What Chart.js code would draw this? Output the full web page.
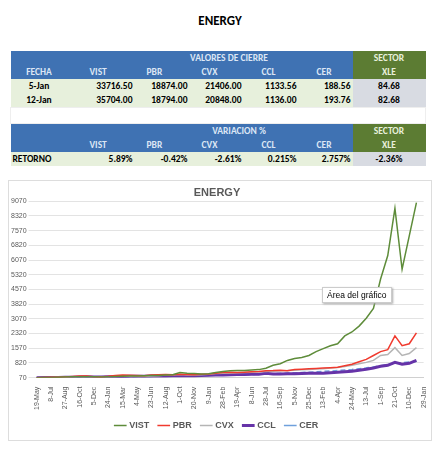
<!DOCTYPE html>
<html><head><meta charset="utf-8">
<script src="https://cdn.jsdelivr.net/npm/chart.js@4"></script>
<style>
body{margin:0;width:440px;height:452px;background:#fff;font-family:Calibri,"Liberation Sans",Arial,sans-serif;position:relative}
h1{margin:0;position:absolute;top:13px;width:440px;text-align:center;font-size:13px;font-weight:bold}
table{position:absolute;left:10px;top:51px;border-collapse:collapse;font-size:9.5px;font-weight:bold}
td{height:14px;padding:0 2px;text-align:right}
.b td.b,.b td{background:#3F72B3;color:#dce6f5}
.b td.g{background:#5C7C33;color:#e8f0dc}
.d td{background:#E7F0DC}
.d td.x{background:#D8DBE2;text-align:center}
.c{text-align:center}
#box{position:absolute;left:8px;top:180px;width:424px;height:261px;border:1px solid #ddd;box-sizing:border-box}
#tip{position:absolute;left:322px;top:287px;font-size:8.5px;font-family:"Liberation Sans",Arial;background:#fff;border:1px solid #ccc;padding:2px 4px;box-shadow:1px 1px 2px #aaa}
</style></head><body>
<h1>ENERGY</h1>
<table>
<colgroup><col style="width:57px"><col style="width:67px"><col style="width:55px"><col style="width:54px"><col style="width:55px"><col style="width:54px"><col style="width:73px"></colgroup>
<tr class="b"><td></td><td colspan="5" class="c" style="padding-left:40px">VALORES DE CIERRE</td><td class="g c">SECTOR</td></tr>
<tr class="b"><td class="c">FECHA</td><td style="text-align:left;padding-left:22px">VIST</td><td style="text-align:left;padding-left:12px">PBR</td><td style="text-align:left;padding-left:12px">CVX</td><td style="text-align:left;padding-left:18px">CCL</td><td style="text-align:left;padding-left:18px">CER</td><td class="g c">XLE</td></tr>
<tr class="d"><td class="c">5-Jan</td><td>33716.50</td><td>18874.00</td><td>21406.00</td><td>1133.56</td><td>188.56</td><td class="x">84.68</td></tr>
<tr class="d"><td class="c">12-Jan</td><td>35704.00</td><td>18794.00</td><td>20848.00</td><td>1136.00</td><td>193.76</td><td class="x">82.68</td></tr>
<tr><td colspan="7" style="height:15px;border:1px solid #eee"></td></tr>
<tr class="b"><td></td><td colspan="5" class="c" style="padding-left:60px">VARIACION %</td><td class="g c">SECTOR</td></tr>
<tr class="b"><td></td><td style="text-align:left;padding-left:22px">VIST</td><td style="text-align:left;padding-left:12px">PBR</td><td style="text-align:left;padding-left:12px">CVX</td><td style="text-align:left;padding-left:18px">CCL</td><td style="text-align:left;padding-left:18px">CER</td><td class="g c">XLE</td></tr>
<tr class="d"><td style="text-align:left">RETORNO</td><td>5.89%</td><td>-0.42%</td><td>-2.61%</td><td>0.215%</td><td>2.757%</td><td class="x">-2.36%</td></tr>
</table>
<div id="box"><canvas id="chart" width="424" height="261"></canvas></div>
<div id="tip">Área del gráfico</div>
<script>
const tickLabels = ['19-May','8-Jul','27-Aug','16-Oct','5-Dec','24-Jan','15-Mar','4-May','23-Jun','12-Aug','1-Oct','20-Nov','9-Jan','28-Feb','19-Apr','8-Jun','28-Jul','16-Sep','5-Nov','25-Dec','13-Feb','4-Apr','24-May','13-Jul','1-Sep','21-Oct','10-Dec','29-Jan'];
const vist = [70,75,80,90,100,110,120,120,110,100,110,130,140,150,160,170,180,180,200,220,330,300,280,260,270,330,380,420,430,440,460,480,550,700,780,950,1050,1100,1200,1400,1550,1700,1800,2200,2400,2700,3100,3600,5100,6300,8700,5600,7300,9000];
const pbr = [70,75,85,95,110,130,150,160,120,110,140,180,200,190,180,170,200,220,230,220,250,230,220,240,260,300,330,340,330,350,370,390,420,430,450,420,480,500,520,540,560,580,600,680,750,880,1000,1200,1400,1500,2200,1700,1800,2350];
const cvx = [70,72,78,85,95,110,120,125,110,100,110,130,140,140,135,130,150,170,200,210,230,210,200,220,250,280,300,310,320,330,350,370,380,400,420,430,450,470,490,510,530,560,590,640,700,780,850,950,1200,1250,1600,1200,1300,1600];
const ccl = [70,72,74,78,85,95,110,120,110,105,110,120,130,140,140,140,150,155,160,170,180,170,170,180,190,200,210,220,225,230,240,245,300,260,260,265,270,280,290,295,300,320,340,370,400,450,500,560,650,700,850,760,800,950];
const cer = [70,72,74,77,80,84,88,92,96,100,105,110,115,120,125,130,135,140,146,152,158,164,170,176,183,190,198,206,215,225,235,245,260,275,290,305,320,335,350,370,390,410,430,460,490,530,570,620,680,740,800,840,870,900];
const yTicks = [70,820,1570,2320,3070,3820,4570,5320,6070,6820,7570,8320,9070];

const labels = [];
tickLabels.forEach((t, i) => { labels.push(t); if (i < tickLabels.length - 1) labels.push(''); });

const mk = (label, data, color, width, dash) => ({label, data, borderColor: color, backgroundColor: color, borderWidth: width, borderDash: dash || [], pointRadius: 0, tension: 0});
new Chart(document.getElementById('chart'), {
  type: 'line',
  data: {labels, datasets: [
    mk('VIST', vist, '#5E8C3A', 1.5),
    mk('PBR', pbr, '#F03A2E', 1.5),
    mk('CVX', cvx, '#B5B5B5', 1.5),
    mk('CCL', ccl, '#6633A8', 3),
    mk('CER', cer, '#6FA0DC', 1.5, [5, 3])
  ]},
  options: {
    responsive: false, animation: false,
    layout: {padding: {left: 0, right: 8, top: 0, bottom: 2}},
    plugins: {
      title: {display: true, text: 'ENERGY', color: '#595959', font: {size: 11, weight: 'bold'}, padding: {top: 5, bottom: 2}},
      legend: {position: 'bottom', labels: {usePointStyle: true, pointStyle: 'line', boxWidth: 24, color: '#595959', font: {size: 9, weight: 'bold'}, padding: 10}},
      tooltip: {enabled: false}
    },
    scales: {
      y: {min: 70, max: 9070, afterBuildTicks: a => { a.ticks = yTicks.map(v => ({value: v})); },
        ticks: {color: '#595959', font: {size: 7}, padding: 2, callback: v => String(v)}, grid: {color: '#e3e3e3'}, border: {display: false}},
      x: {grid: {display: false}, border: {color: '#d0d0d0'},
        ticks: {autoSkip: false, maxRotation: 90, minRotation: 90, color: '#595959', font: {size: 7}, padding: 1,
          callback: (v, i) => labels[i]}}
    }
  }
});
</script>
</body></html>
